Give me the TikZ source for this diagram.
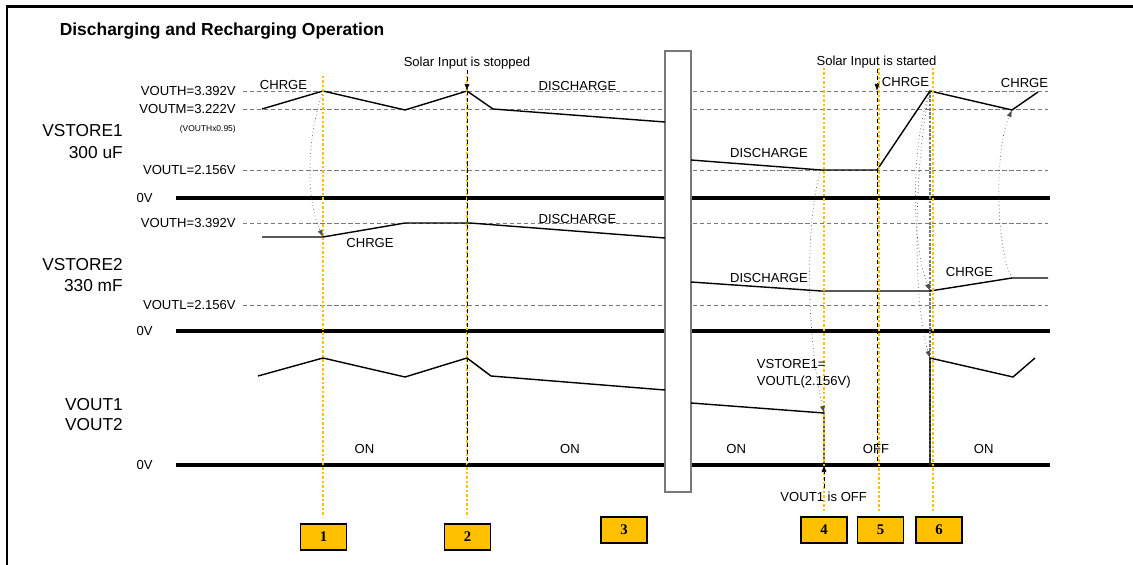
\documentclass[tikz,border=0pt]{standalone}
\usepackage{fontspec}
\setmainfont{Liberation Sans}
\newfontfamily\numfont{Liberation Serif}
\usepackage{tikz}
\usetikzlibrary{positioning,arrows.meta}
\definecolor{amber}{RGB}{255,192,0}
\definecolor{levelgray}{RGB}{120,120,120}

\begin{document}
\begin{tikzpicture}[x=0.025cm,y=-0.025cm,>={Latex[length=5pt,width=3.6pt]},
      lbl/.style={font=\fontsize{9.3}{11}\selectfont,inner sep=0pt},
      small lbl/.style={font=\fontsize{6}{7}\selectfont,inner sep=0pt},
      rail name/.style={font=\fontsize{12.3}{14}\selectfont,inner sep=0pt,anchor=base east},
      level/.style={densely dashed,levelgray,line width=0.6pt},
      ground/.style={line width=2.8pt},
      wave/.style={line width=1pt},
      marker line/.style={amber,line width=1.8pt,dash pattern=on 1.6pt off 1.6pt},
      solar line/.style={densely dashed,line width=0.5pt},
      hint/.style={->,dotted,black!70,line width=0.5pt},
      num box/.style={draw,line width=1.2pt,fill=amber,minimum width=32.6pt,minimum height=18.4pt,inner sep=0pt,
        font=\numfont\bfseries\fontsize{10.5}{11}\selectfont}]
      \useasboundingbox (0,0) rectangle (1133,565);
      \draw[line width=1.6pt] (7,565) -- (7,6.5) -- (1133,6.5);
      \node[font=\bfseries\fontsize{12.4}{14}\selectfont,inner sep=0pt,anchor=base west] (title) at (59.5,36) {Discharging and Recharging Operation};

      % rails
      \node[rail name] (s1name) at (123,136.7) {VSTORE1};
      \node[rail name] (s1cap) at (123,158.3) {300 uF};
      \node[rail name] (s2name) at (123,270) {VSTORE2};
      \node[rail name] (s2cap) at (123,291.7) {330 mF};
      \node[rail name] (out1) at (123,410) {VOUT1};
      \node[rail name] (out2) at (123,430) {VOUT2};

      \node[lbl,anchor=base east] (s1h) at (236,95.5) {VOUTH=3.392V};
      \node[lbl,anchor=base east] (s1m) at (236,113.5) {VOUTM=3.222V};
      \node[small lbl,anchor=base east] (s1x) at (236,131.5) {(VOUTHx0.95)};
      \node[lbl,anchor=base east] (s1l) at (236,174) {VOUTL=2.156V};
      \node[lbl,anchor=base east] (s2h) at (236,227) {VOUTH=3.392V};
      \node[lbl,anchor=base east] (s2l) at (236,309) {VOUTL=2.156V};

      \foreach \y in {91,109,170,223,305}
        \draw[level] (243,\y) -- (1048,\y);
      \foreach \y/\n in {198/g1,331/g2,465/g3} {
        \draw[ground] (176,\y) -- (1050,\y);
        \node[lbl,anchor=east] (\n) at (153,\y) {0V};
      }

      % time break
      \draw[fill=white,draw=levelgray,line width=0.8pt] (665,51) rectangle (691,492);
      \draw[levelgray,line width=1.2pt,dash pattern=on 2pt off 1pt] (930,91) -- (930,465);

      % VSTORE1
      \draw[wave] (262,109) -- (323,91) coordinate (p1) -- (405,110) -- (467,91) coordinate (p2) -- (493,109) -- (665,122);
      \draw[wave] (691,160) -- (821,170) coordinate (p4) -- (877,170) -- (930,91) coordinate (p6)
        -- (1012,110) coordinate (p7) -- (1038,92);
      % VSTORE2
      \draw[wave] (262,237) -- (323,237) coordinate (q1) -- (405,223) -- (470,223) -- (665,238);
      \draw[wave] (691,282) -- (821,291) -- (930,291) coordinate (q6) -- (1012,278) coordinate (q7) -- (1048,278);
      % VOUT
      \draw[wave] (258,376) -- (323,358) -- (405,377) -- (467,358) -- (491,376) -- (665,390);
      \draw[wave] (691,403) -- (824,413) coordinate (r4) -- (824,465) coordinate (r4g);
      \draw[wave] (930,465) -- (930,358) coordinate (r6) -- (1013,377) -- (1035,358);

      \foreach \x/\t/\b in {323/76/517,467/76/517,824/68/513,879/68/513,933/68/513}
        \draw[marker line] (\x,\t) -- (\x,\b);

      % solar input
      \coordinate (s5) at (877,91);
      \node[lbl,anchor=base] (stopped) at (467,66.7) {Solar Input is stopped};
      \node[lbl,anchor=base] (started) at (876.5,66) {Solar Input is started};
      \node[lbl,anchor=base] (offnote) at (823.7,501) {VOUT1 is OFF};
      \draw[solar line,->] (stopped.south -| p2) -- (p2);
      \draw[solar line] (p2) -- (467,465);
      \draw[solar line,->] (started.south -| s5) -- (s5);
      \draw[solar line] (s5) -- (877,465);
      \draw[solar line,->] ([yshift=2pt]offnote.north -| r4g) -- (r4g);

      \draw[hint] (p1) .. controls (306,140) and (306,200) .. (q1);
      \draw[hint] (p4) .. controls (806,215) and (805,330) .. (r4);
      \draw[hint] (p6) .. controls (912,140) and (910,240) .. (q6);
      \draw[hint] (p6) .. controls (914,160) and (912,300) .. (r6);
      \draw[hint] (q7) .. controls (996,250) and (994,150) .. (p7);

      % phase labels
      \node[lbl,anchor=base] (c1) at (283.5,90) {CHRGE};
      \node[lbl,anchor=base] (d1) at (577.5,91) {DISCHARGE};
      \node[lbl,anchor=base] (d1b) at (769,157) {DISCHARGE};
      \node[lbl,anchor=base] (c1b) at (905.5,86.7) {CHRGE};
      \node[lbl,anchor=base] (c1c) at (1024.5,87.5) {CHRGE};
      \node[lbl,anchor=base] (c2) at (370,247.3) {CHRGE};
      \node[lbl,anchor=base] (d2) at (577.5,223) {DISCHARGE};
      \node[lbl,anchor=base] (d2b) at (769,282) {DISCHARGE};
      \node[lbl,anchor=base] (c2b) at (969.5,276) {CHRGE};
      \node[lbl,anchor=base] (on1) at (364.5,453.3) {ON};
      \node[lbl,anchor=base] (on2) at (570,453.3) {ON};
      \node[lbl,anchor=base] (on3) at (736.3,453.3) {ON};
      \node[lbl,anchor=base] (off) at (876,453.3) {OFF};
      \node[lbl,anchor=base] (on4) at (983.7,453.3) {ON};
      \node[lbl,anchor=base west] (eq1) at (756.7,368) {VSTORE1=};
      \node[lbl,anchor=base west] (eq2) at (756.7,385) {VOUTL(2.156V)};

      % steps
      \node[num box] (b1) at (323.5,537) {1};
      \node[num box] (b2) at (467.5,537) {2};
      \node[num box] (b3) at (624,530) {3};
      \node[num box] (b4) at (824,530) {4};
      \node[num box] (b5) [right=6.4pt of b4] {5};
      \node[num box] (b6) [right=7.8pt of b5] {6};
\end{tikzpicture}
\end{document}
